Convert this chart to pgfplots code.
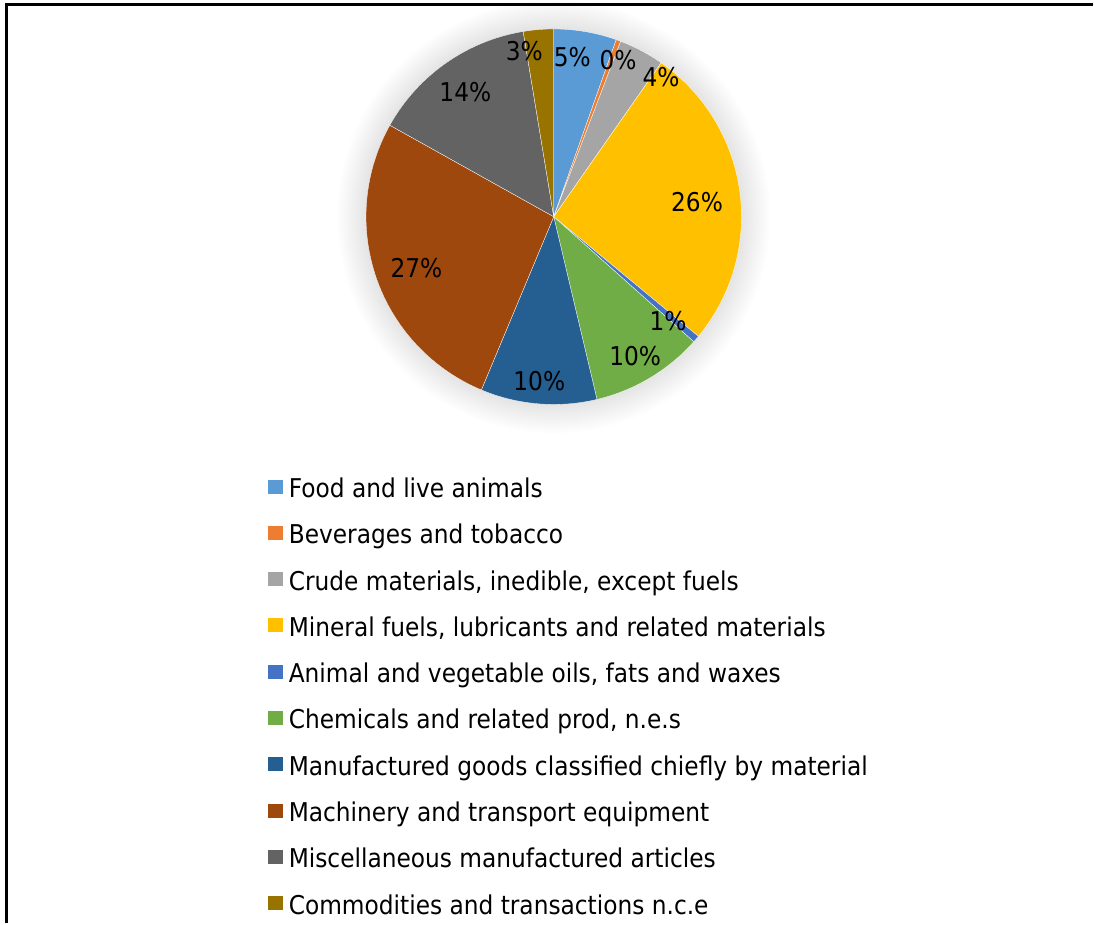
\documentclass[border=0pt]{standalone}
\usepackage{pgfplots}
\usepackage{pgfplotstable}
\pgfplotsset{compat=1.18}
\usepackage{fontspec}
\setmainfont{DejaVu Sans}[FakeStretch=0.9]
\definecolor{c0}{HTML}{5B9BD5}
\definecolor{c1}{HTML}{ED7D31}
\definecolor{c2}{HTML}{A5A5A5}
\definecolor{c3}{HTML}{FFC000}
\definecolor{c4}{HTML}{4472C4}
\definecolor{c5}{HTML}{70AD47}
\definecolor{c6}{HTML}{255E91}
\definecolor{c7}{HTML}{9E480E}
\definecolor{c8}{HTML}{636363}
\definecolor{c9}{HTML}{997300}
\pgfplotstableread{
id value
0 5.4
1 0.4
2 3.9
3 26.3
4 0.6
5 9.7
6 10.0
7 26.8
8 14.3
9 2.6
}\piedata
\begin{document}
\begin{tikzpicture}
\begin{axis}[
  x=1bp, y=1bp, y dir=reverse,
  xmin=0, xmax=1094, ymin=0, ymax=924,
  hide axis, clip=false,
  legend entries={{Food and live animals},{Beverages and tobacco},{Crude materials, inedible, except fuels},{Mineral fuels, lubricants and related materials},{Animal and vegetable oils, fats and waxes},{Chemicals and related prod, n.e.s},{Manufactured goods classified chiefly by material},{Machinery and transport equipment},{Miscellaneous manufactured articles},{Commodities and transactions n.c.e}},
  legend cell align=left,
  legend style={at={(axis cs:268,479)}, anchor=north west, draw=none, fill=none,
    inner sep=0pt, row sep=22.35bp, column sep=6bp,
    font=\fontsize{26}{30}\selectfont,
    nodes={inner sep=0pt, text height=19bp, text depth=5bp}},
  legend image code/.code={\fill[#1,draw=none] (0bp,-3bp) rectangle (15bp,11bp);},
]
\path[fill=white] (axis cs:0,0) rectangle (axis cs:1094,924);
\pgfplotsinvokeforeach{0,...,13}{
  \fill[black, opacity=0.009] (axis cs:554.5,217) circle[radius={188+2.2*#1}];
}
\def\cum{0}
\pgfplotsforeachungrouped \i in {0,...,9}{%
  \pgfplotstablegetelem{\i}{value}\of\piedata
  \let\val\pgfplotsretval
  \pgfmathsetmacro\a{\cum*3.6}%
  \pgfmathsetmacro\b{(\cum+\val)*3.6}%
  \pgfmathsetmacro\newcum{\cum+\val}%
  \xdef\cum{\newcum}%
  \edef\doplot{\noexpand\addplot[fill=c\i, draw=white, line width=0.3bp, domain=\a:\b, samples=60] ({554.5+188*sin(x)},{217-188*cos(x)}) -- (axis cs:554.5,217) -- cycle;}%
  \doplot
}
\begin{scope}[font=\fontsize{26}{30}\selectfont]
\node at (axis cs:573,57) {5\%};
\node at (axis cs:619,60) {0\%};
\node at (axis cs:662,77) {4\%};
\node at (axis cs:698,202) {26\%};
\node at (axis cs:669,322) {1\%};
\node at (axis cs:636,357) {10\%};
\node at (axis cs:540,382) {10\%};
\node at (axis cs:417,268) {27\%};
\node at (axis cs:466,92) {14\%};
\node at (axis cs:525,51) {3\%};
\end{scope}
\draw[line width=3bp] (axis cs:6.5,924) -- (axis cs:6.5,4.5) -- (axis cs:1094,4.5);
\end{axis}
\end{tikzpicture}
\end{document}
